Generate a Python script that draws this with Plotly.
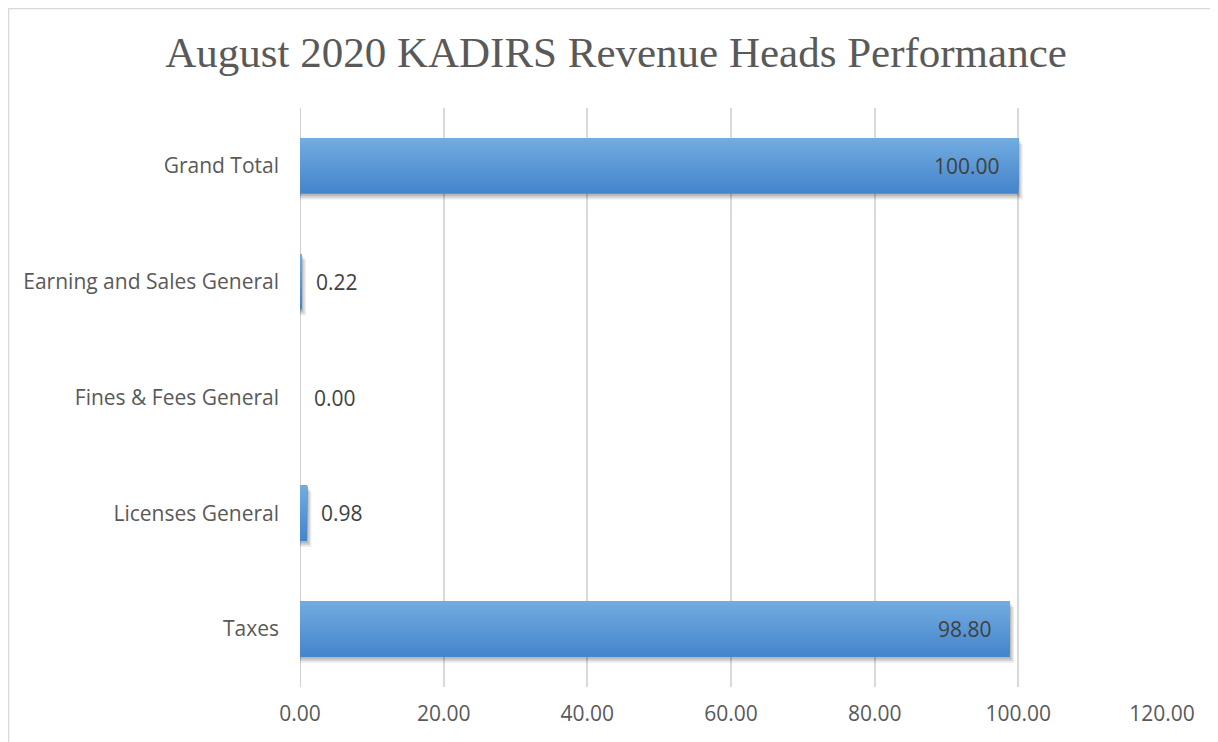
import plotly.graph_objects as go

categories = ["Taxes", "Licenses General", "Fines & Fees General", "Earning and Sales General", "Grand Total"]
values = [98.80, 0.98, 0.00, 0.22, 100.00]
x_ticks = [0, 20, 40, 60, 80, 100, 120]
x_tick_labels = ["0.00", "20.00", "40.00", "60.00", "80.00", "100.00", "120.00"]
title_text = "August 2020 KADIRS Revenue Heads Performance"

bar_w = 0.48
fig = go.Figure()

# soft drop shadow (faint layers to mimic blur)
for dx, dy, a in [(0.6, 0.05, 0.08), (0.4, 0.035, 0.10), (0.2, 0.02, 0.12)]:
    fig.add_trace(go.Bar(
        y=categories, x=[v + dx if v > 0 else 0 for v in values], orientation="h",
        width=bar_w, offset=-bar_w / 2 - dy,
        marker=dict(color=f"rgba(0,0,0,{a})", line=dict(width=0)),
        hoverinfo="skip", showlegend=False,
    ))

# vertical gradient: stacked overlapping layers, each covering from its start to the top
dark = (68, 133, 203)
light = (114, 171, 224)
nb = 28
step = bar_w / nb
for i in range(nb):
    t = i / (nb - 1)
    c = tuple(round(dark[k] + (light[k] - dark[k]) * t) for k in range(3))
    fig.add_trace(go.Bar(
        y=categories, x=values, orientation="h",
        width=bar_w - i * step, offset=-bar_w / 2 + i * step,
        marker=dict(color=f"rgb{c}", line=dict(width=0)),
        hoverinfo="skip", showlegend=False,
    ))

label_font = dict(family="Open Sans", size=21, color="#404040")
annotations = []
for cat, v in zip(categories, values):
    inside = v > 20
    annotations.append(dict(
        x=v, y=cat, xref="x", yref="y", text=f"{v:.2f}", showarrow=False,
        xanchor="right" if inside else "left", xshift=-16 if inside else 12,
        font=label_font,
    ))

fig.update_layout(
    width=1210, height=734,
    margin=dict(l=292, r=56, t=100, b=55),
    paper_bgcolor="white", plot_bgcolor="white",
    barmode="overlay",
    title=dict(text=title_text, x=0.5025, xanchor="center", y=0.94, yanchor="middle",
               xref="container", yref="container",
               font=dict(family="Liberation Serif", size=43, color="#595959")),
    xaxis=dict(range=[0, 120], tickvals=x_ticks, ticktext=x_tick_labels,
               showgrid=True, gridcolor="#d9d9d9", gridwidth=1.5,
               zeroline=False, showline=False, ticks="",
               automargin=False, ticklabelstandoff=12,
               tickfont=dict(family="Open Sans", size=21, color="#595959")),
    yaxis=dict(showgrid=False, zeroline=False, showline=False, ticks="",
               automargin=False, ticklabelstandoff=20,
               tickfont=dict(family="Open Sans", size=21, color="#595959")),
    annotations=annotations,
    shapes=[
        dict(type="line", xref="x", yref="paper", x0=0, x1=0, y0=0, y1=1,
             line=dict(color="#d0d0d0", width=2), layer="below"),
        dict(type="rect", xref="paper", yref="paper",
             x0=-0.3381, x1=1.0638, y0=-0.2, y1=1.1718,
             line=dict(color="#d9d9d9", width=1.5)),
    ],
)

fig.write_html("out.html")
